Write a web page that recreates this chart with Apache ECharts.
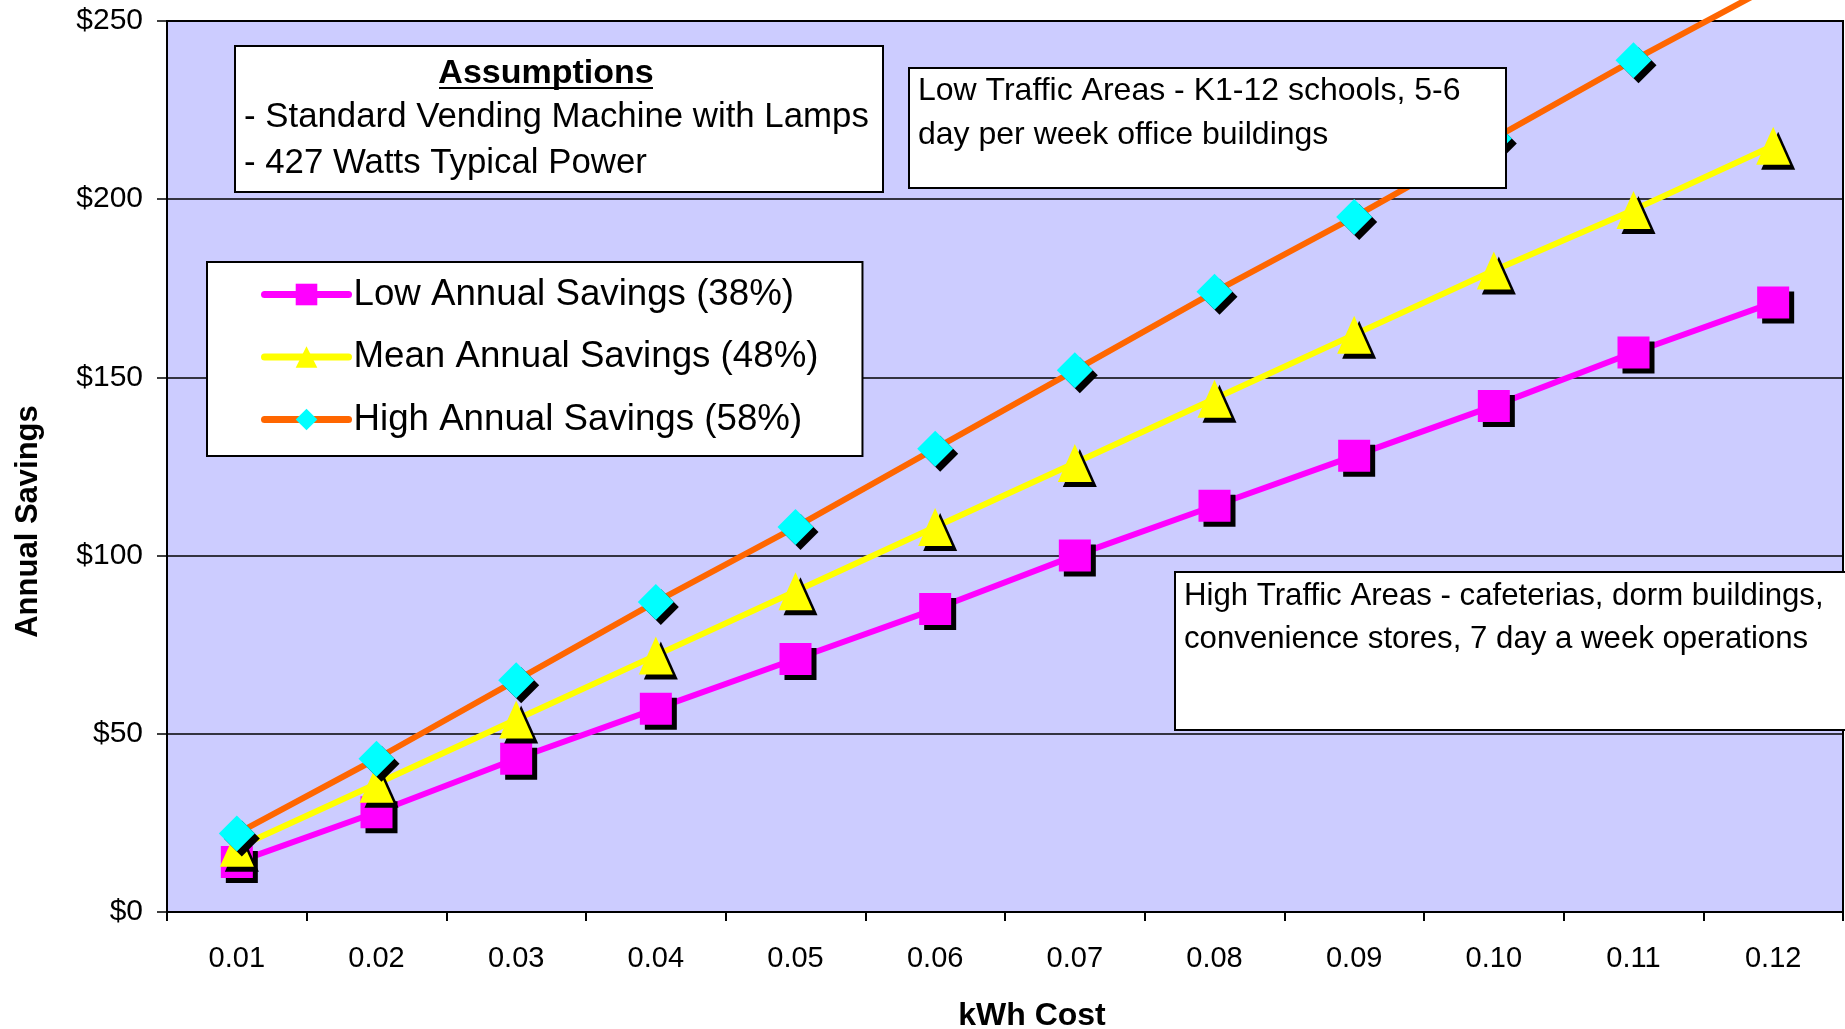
<!DOCTYPE html>
<html><head><meta charset="utf-8">
<script src="https://cdn.jsdelivr.net/npm/echarts@6/dist/echarts.min.js"></script>
<style>html,body{margin:0;padding:0;background:#fff}#c{width:1845px;height:1029px}</style>
</head><body><div id="c"></div>
<script>
const categories = ['0.01','0.02','0.03','0.04','0.05','0.06','0.07','0.08','0.09','0.10','0.11','0.12'];
const lowSavings  = [14, 28, 43, 57, 71, 85, 100, 114, 128, 142, 157, 171];
const meanSavings = [18, 36, 54, 72, 90, 108, 126, 144, 162, 180, 197, 215];
const highSavings = [22, 43, 65, 87, 108, 130, 152, 174, 195, 217, 239, 260];
const yTicks = [0, 50, 100, 150, 200, 250];
const seriesNames = ['Low Annual Savings (38%)', 'Mean Annual Savings (48%)', 'High Annual Savings (58%)'];
const xTitle = 'kWh Cost';
const yTitle = 'Annual Savings';
const assumptionsTitle = 'Assumptions';
const assumptionsLines = ['- Standard Vending Machine with Lamps', '- 427 Watts Typical Power'];
const lowTrafficLines = ['Low Traffic Areas - K1-12 schools, 5-6', 'day per week office buildings'];
const highTrafficLines = ['High Traffic Areas - cafeterias, dorm buildings,', 'convenience stores, 7 day a week operations'];

const FONT = '"Liberation Sans", Arial, sans-serif';
const Y_MIN = yTicks[0], Y_MAX = yTicks[yTicks.length - 1], Y_STEP = yTicks[1] - yTicks[0];

function mkSeries(name, values, lineColor, fillColor, symbol, size) {
  return {
    name: name, type: 'line', clip: false,
    data: values.map(v => v > Y_MAX ? { value: v, symbol: 'none' } : v),
    symbol: symbol, symbolSize: size,
    lineStyle: { color: lineColor, width: 6 },
    itemStyle: { color: fillColor, shadowColor: '#000', shadowBlur: 0, shadowOffsetX: 5, shadowOffsetY: 5 },
    emphasis: { disabled: true }
  };
}

const chart = echarts.init(document.getElementById('c'), null, { renderer: 'canvas' });
const txt = (x, y, text, size, extra) => Object.assign({
  type: 'text', z: 101, x: x, y: y,
  style: { text: text, fill: '#000', font: size + 'px ' + FONT, align: 'left', verticalAlign: 'middle' }
}, extra || {});

chart.setOption({
  animation: false,
  backgroundColor: '#fff',
  textStyle: { fontFamily: FONT },
  grid: { left: 167, top: 21, right: 2, bottom: 117, show: true, backgroundColor: '#CCCCFF',
          borderColor: '#000', borderWidth: 2, containLabel: false, outerBoundsMode: 'none' },
  xAxis: {
    type: 'category', data: categories, boundaryGap: true,
    axisLine: { lineStyle: { color: '#000', width: 2 } },
    axisTick: { show: true, length: 9, interval: 0, lineStyle: { color: '#000', width: 2 } },
    axisLabel: { color: '#000', fontSize: 29, margin: 32, interval: 0, fontFamily: FONT },
    splitLine: { show: false },
    name: xTitle, nameLocation: 'middle', nameGap: 88,
    nameTextStyle: { fontSize: 32, fontWeight: 'bold', color: '#000', fontFamily: FONT, padding: [0, 0, 0, 54] }
  },
  yAxis: {
    type: 'value', min: Y_MIN, max: Y_MAX, interval: Y_STEP,
    axisLine: { show: true, lineStyle: { color: '#000', width: 2 } },
    axisTick: { show: true, length: 10, lineStyle: { color: '#000', width: 1.5 } },
    axisLabel: { color: '#000', fontSize: 30, margin: 24, fontFamily: FONT, formatter: v => '$' + v },
    splitLine: { show: true, lineStyle: { color: '#000', width: 1.5 } },
    name: yTitle, nameLocation: 'middle', nameGap: 123, nameRotate: 90,
    nameTextStyle: { fontSize: 31, fontWeight: 'bold', color: '#000', fontFamily: FONT, padding: [0, 110, 0, 0] }
  },
  legend: {
    orient: 'vertical', left: 207, top: 262,
    padding: [12.5, 44, 16.5, 54],
    backgroundColor: '#fff', borderColor: '#000', borderWidth: 2, borderRadius: 0,
    itemWidth: 84, itemHeight: 27, itemGap: 22.5,
    textStyle: { fontSize: 36.7, lineHeight: 40, color: '#000', fontFamily: FONT },
    lineStyle: { width: 7, cap: 'round' },
    itemStyle: { shadowColor: 'rgba(0,0,0,0)', shadowBlur: 0, shadowOffsetX: 0, shadowOffsetY: 0, borderWidth: 0 },
    selectedMode: false, z: 10,
    data: seriesNames
  },
  graphic: { elements: [
    { type: 'rect', z: 100, shape: { x: 235, y: 46, width: 648, height: 146 }, style: { fill: '#fff', stroke: '#000', lineWidth: 2 } },
    txt(546, 73.5, assumptionsTitle, 34, { style: { text: assumptionsTitle, fill: '#000', font: 'bold 34px ' + FONT, align: 'center', verticalAlign: 'middle' } }),
    { type: 'line', z: 101, shape: { x1: 439, y1: 88, x2: 653, y2: 88 }, style: { stroke: '#000', lineWidth: 2 } },
    txt(244, 117.5, assumptionsLines[0], 34.8),
    txt(244, 163, assumptionsLines[1], 34.8),
    { type: 'rect', z: 100, shape: { x: 909, y: 68, width: 597, height: 120 }, style: { fill: '#fff', stroke: '#000', lineWidth: 2 } },
    txt(918, 91.5, lowTrafficLines[0], 32),
    txt(918, 135.5, lowTrafficLines[1], 32),
    { type: 'rect', z: 100, shape: { x: 1175, y: 572, width: 690, height: 158 }, style: { fill: '#fff', stroke: '#000', lineWidth: 2 } },
    txt(1184, 596.5, highTrafficLines[0], 31.2),
    txt(1184, 639.5, highTrafficLines[1], 31.2)
  ] },
  series: [
    mkSeries(seriesNames[0], lowSavings, '#FF00FF', '#FF00FF', 'rect', 32),
    mkSeries(seriesNames[1], meanSavings, '#FFFF00', '#FFFF00', 'triangle', [34, 38]),
    mkSeries(seriesNames[2], highSavings, '#FF6600', '#00FFFF', 'diamond', 36)
  ]
});
</script>
</body></html>
